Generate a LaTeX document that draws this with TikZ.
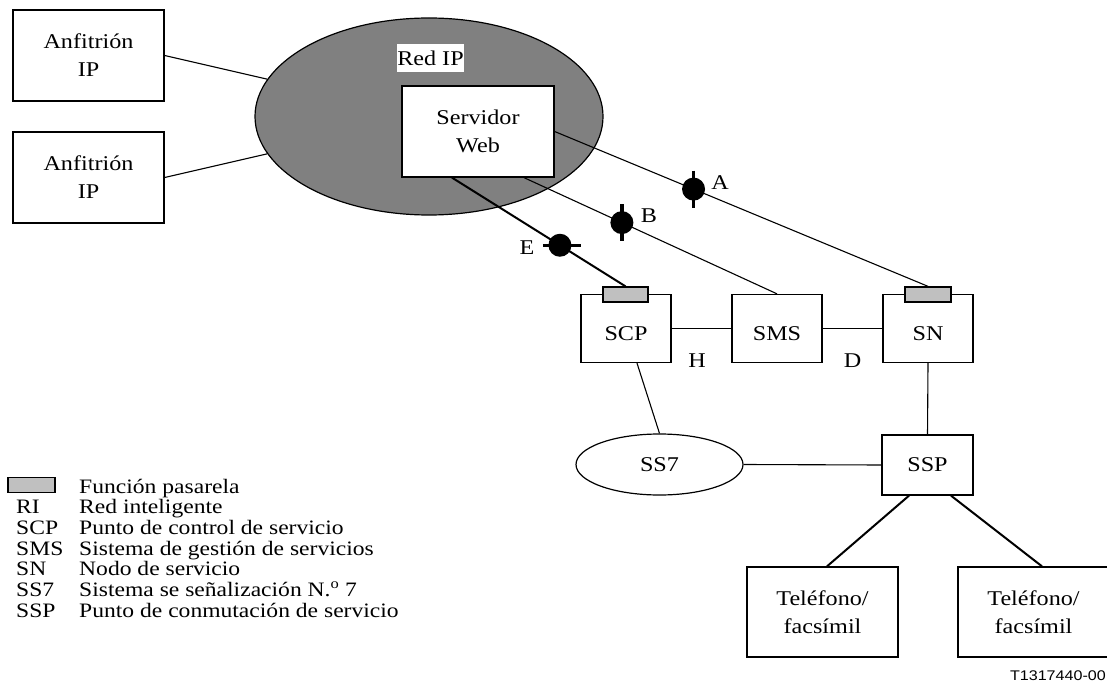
\documentclass[tikz,border=0pt]{standalone}
\usepackage{fontspec}
\setmainfont{Liberation Serif}[FakeStretch=1.15]
\newfontfamily\tfont{Liberation Sans}[FakeStretch=1.15]
\usetikzlibrary{shapes.geometric,calc}
\definecolor{ipgray}{HTML}{808080}
\definecolor{gwgray}{HTML}{C0C0C0}
\begin{document}
\begin{tikzpicture}[x=1pt,y=-1pt,
  box/.style={draw, line width=1.3pt, fill=white, align=center, inner sep=0pt,
    font=\fontsize{21}{28}\selectfont},
  ibox/.style={draw, line width=1.3pt, fill=white, inner sep=0pt,
    minimum width=90, minimum height=68, text height=24pt, text depth=0pt,
    font=\fontsize{21}{28}\selectfont},
  gwbox/.style={draw, line width=1.3pt, fill=gwgray, inner sep=0pt, minimum height=15},
  conn/.style={line width=1.1pt},
  thickconn/.style={line width=2pt},
  tickmark/.style={line width=3.5pt},
  lbl/.style={inner sep=0pt, font=\fontsize{21}{28}\selectfont},
  leg/.style={inner sep=0pt, anchor=base west, font=\fontsize{20.5}{21}\selectfont}]
\useasboundingbox (0,0) rectangle (1107,684);

% IP network
\node[ellipse, draw, fill=ipgray, line width=1.2pt, inner sep=0pt,
      minimum width=348, minimum height=197] (ipnet) at (429,116.5) {};
\node[box, minimum width=151, minimum height=91] (anf1) at (88.5,55.5) {Anfitrión\\IP};
\node[box, minimum width=151, minimum height=91] (anf2) at (88.5,177.5) {Anfitrión\\IP};
\node[box, minimum width=152, minimum height=91] (web) at (478,131.5) {Servidor\\Web};
\node[lbl, fill=white, minimum width=67, minimum height=28] (redip) at (430.5,58) {Red IP};

% IN nodes
\node[ibox] (scp) at (626,328.5) {SCP};
\node[ibox] (sms) at (777,328.5) {SMS};
\node[ibox] (sn) at (928,328.5) {SN};
\node[gwbox, minimum width=45] (gwscp) at (625.5,294.5) {};
\node[gwbox, minimum width=46] (gwsn) at (928,294.5) {};

\node[ellipse, draw, line width=1.2pt, inner sep=0pt, minimum width=167, minimum height=61,
      font=\fontsize{21}{28}\selectfont] (ss7) at (659.5,464.5) {SS7};
\node[box, minimum width=91, minimum height=60] (ssp) at (927.5,465) {SSP};
\node[box, minimum width=151, minimum height=90] (ph1) at (822.5,612) {Teléfono/\\facsímil};
\node[box, minimum width=151, minimum height=90] (ph2) at (1033.5,612) {Teléfono/\\facsímil};

% connectors
\draw[conn] (anf1.east) -- (ipnet);
\draw[conn] (anf2.east) -- (ipnet);
\draw[conn] (web.east) -- coordinate[pos=0.372] (dA) (gwsn.north);
\draw[conn] ($(web.south)+(46,0)$) -- coordinate[pos=0.387] (dB) (sms.north);
\draw[thickconn] ($(web.south)+(-26,0)$) -- coordinate[pos=0.622] (dE) (gwscp.north);
\draw[conn] (scp.east) -- (sms.west);
\draw[conn] (sms.east) -- (sn.west);
\draw[conn] ($(scp.south)+(11,0)$) -- (ss7.north);
\draw[conn] (ss7.east) -- (ssp.west);
\draw[conn] (sn.south) -- (ssp.north);
\draw[thickconn] ($(ssp.south)+(-18.5,0)$) -- ($(ph1.north)+(4.5,0)$);
\draw[thickconn] ($(ssp.south)+(23.5,0)$) -- ($(ph2.north)+(8.5,0)$);

% reference points
\fill (dA) circle[radius=11.5pt];
\draw[tickmark] ($(dA)+(0,-18.5)$) -- ($(dA)+(0,18.5)$);
\fill (dB) circle[radius=11.5pt];
\draw[tickmark] ($(dB)+(0,-18.5)$) -- ($(dB)+(0,18.5)$);
\fill (dE) circle[radius=11.5pt];
\draw[tickmark] ($(dE)+(-17,0)$) -- ($(dE)+(21,0)$);

\node[lbl] (lA) at (720,183) {A};
\node[lbl] (lB) at (649,216) {B};
\node[lbl] (lE) at (527,247.5) {E};
\node[lbl] (lH) at (697,360.5) {H};
\node[lbl] (lD) at (852.5,360.5) {D};

% legend
\node[draw, fill=gwgray, line width=1.2pt, inner sep=0pt, minimum width=47, minimum height=15] (leggw) at (31.5,485) {};
\node[leg] (l0) at (79,493) {Función pasarela};
\node[leg] (a1) at (16,513.7) {RI};
\node[leg] (l1) at (79,513.7) {Red inteligente};
\node[leg] (a2) at (16,534.3) {SCP};
\node[leg] (l2) at (79,534.3) {Punto de control de servicio};
\node[leg] (a3) at (16,555) {SMS};
\node[leg] (l3) at (79,555) {Sistema de gestión de servicios};
\node[leg] (a4) at (16,575.7) {SN};
\node[leg] (l4) at (79,575.7) {Nodo de servicio};
\node[leg] (a5) at (16,596.3) {SS7};
\node[leg] (l5) at (79,596.3) {Sistema se señalización N.\textsuperscript{o} 7};
\node[leg] (a6) at (16,617) {SSP};
\node[leg] (l6) at (79,617) {Punto de conmutación de servicio};

\node[inner sep=0pt, anchor=base east, font=\tfont\fontsize{14}{14}\selectfont] (tref) at (1106,680) {T1317440-00};
\end{tikzpicture}
\end{document}
